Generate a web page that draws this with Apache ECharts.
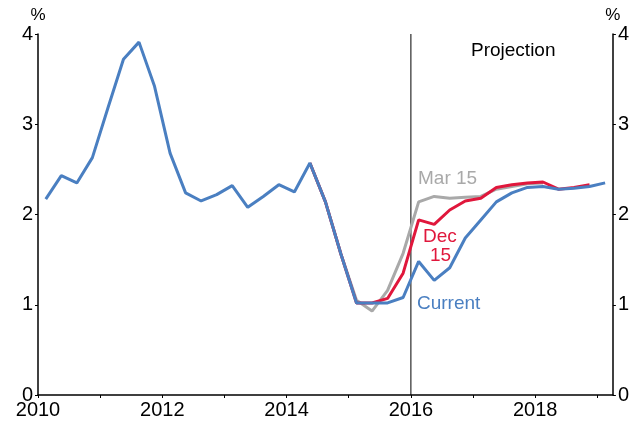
<!DOCTYPE html>
<html>
<head>
<meta charset="utf-8">
<script src="https://cdn.jsdelivr.net/npm/echarts@6/dist/echarts.min.js"></script>
<style>
  html, body { margin: 0; padding: 0; background: #fff; }
  #chart { width: 632px; height: 422px; }
</style>
</head>
<body>
<div id="chart"></div>
<script>
// quarterly categories 2010Q1 .. 2019Q1
const quarters = []
for (let y = 2010; y <= 2019; y++) {
  for (let q = 1; q <= 4; q++) {
    if (y === 2019 && q > 1) break
    quarters.push(y + 'Q' + q)
  }
}

// year-end inflation, %
const current = [
  2.17, 2.43, 2.35, 2.63, 3.18, 3.72, 3.91, 3.42, 2.68, 2.24, 2.15, 2.22,
  2.32, 2.08, 2.20, 2.33, 2.25, 2.57, 2.14, 1.56, 1.02, 1.02, 1.02, 1.08,
  1.48, 1.27, 1.41, 1.74, 1.94, 2.14, 2.24, 2.30, 2.31, 2.28, 2.29, 2.31,
  2.35
]
const dec15 = [
  null, null, null, null, null, null, null, null, null, null, null, null,
  null, null, null, null, null, 2.57, 2.14, 1.56, 1.02, 1.02, 1.07, 1.35,
  1.94, 1.89, 2.05, 2.15, 2.18, 2.30, 2.33, 2.35, 2.36, 2.28, 2.30, 2.33,
  null
]
const mar15 = [
  null, null, null, null, null, null, null, null, null, null, null, null,
  null, null, null, null, null, 2.57, 2.14, 1.56, 1.05, 0.93, 1.16, 1.57,
  2.14, 2.20, 2.18, 2.19, 2.20, 2.28, 2.31, 2.34, 2.35, null, null, null,
  null
]

const projectionStart = 2016
const yearMin = 2010
const yearMax = 2019.25

const blue = '#4a7fc1'
const red = '#e0173c'
const grey = '#a9a9a9'
const font = 'Liberation Sans, Arial, sans-serif'

const chart = echarts.init(document.getElementById('chart'))

const yAxisBase = {
  type: 'value',
  min: 0,
  max: 4,
  interval: 1,
  name: '%',
  nameLocation: 'end',
  nameGap: 10,
  nameTextStyle: { color: '#000', fontSize: 17, fontFamily: font },
  axisLine: { show: true, lineStyle: { color: '#000', width: 1.5 } },
  axisTick: { show: true, length: 3, lineStyle: { color: '#000' } },
  axisLabel: { color: '#000', fontSize: 20, fontFamily: font, margin: 5 },
  splitLine: { show: false },
}

chart.setOption({
  animation: false,
  backgroundColor: '#fff',
  grid: { left: 38, right: 16, top: 34, bottom: 27 },
  xAxis: [
    {
      type: 'category',
      data: quarters,
      boundaryGap: true,
      show: false,
    },
    {
      type: 'value',
      min: yearMin,
      max: yearMax,
      interval: 1,
      position: 'bottom',
      axisLine: { show: true, onZero: false, lineStyle: { color: '#000', width: 1.5 } },
      axisTick: { show: true, length: 3, lineStyle: { color: '#000' } },
      axisLabel: {
        color: '#000', fontSize: 20, fontFamily: font, margin: 5,
        showMaxLabel: false,
        formatter: v => (v % 2 === 0 ? String(v) : ''),
      },
      splitLine: { show: false },
    },
  ],
  yAxis: [
    Object.assign({}, yAxisBase, { position: 'left' }),
    Object.assign({}, yAxisBase, { position: 'right' }),
  ],
  series: [
    {
      type: 'line',
      xAxisIndex: 1,
      data: [[projectionStart, 0], [projectionStart, 4]],
      showSymbol: false,
      lineStyle: { color: '#000', width: 1 },
      silent: true,
    },
    {
      name: 'Mar 15',
      type: 'line',
      data: mar15,
      showSymbol: false,
      lineStyle: { color: grey, width: 3 },
    },
    {
      name: 'Dec 15',
      type: 'line',
      data: dec15,
      showSymbol: false,
      lineStyle: { color: red, width: 3 },
    },
    {
      name: 'Current',
      type: 'line',
      data: current,
      showSymbol: false,
      lineStyle: { color: blue, width: 3 },
    },
  ],
  graphic: [
    { type: 'text', left: 471, top: 41, style: { text: 'Projection', fill: '#000', font: '19px ' + font } },
    { type: 'text', left: 418, top: 169, style: { text: 'Mar 15', fill: grey, font: '19px ' + font } },
    { type: 'text', left: 423, top: 227, style: { text: 'Dec', fill: red, font: '19px ' + font } },
    { type: 'text', left: 430, top: 246, style: { text: '15', fill: red, font: '19px ' + font } },
    { type: 'text', left: 417, top: 294, style: { text: 'Current', fill: blue, font: '19px ' + font } },
  ],
})
</script>
</body>
</html>
